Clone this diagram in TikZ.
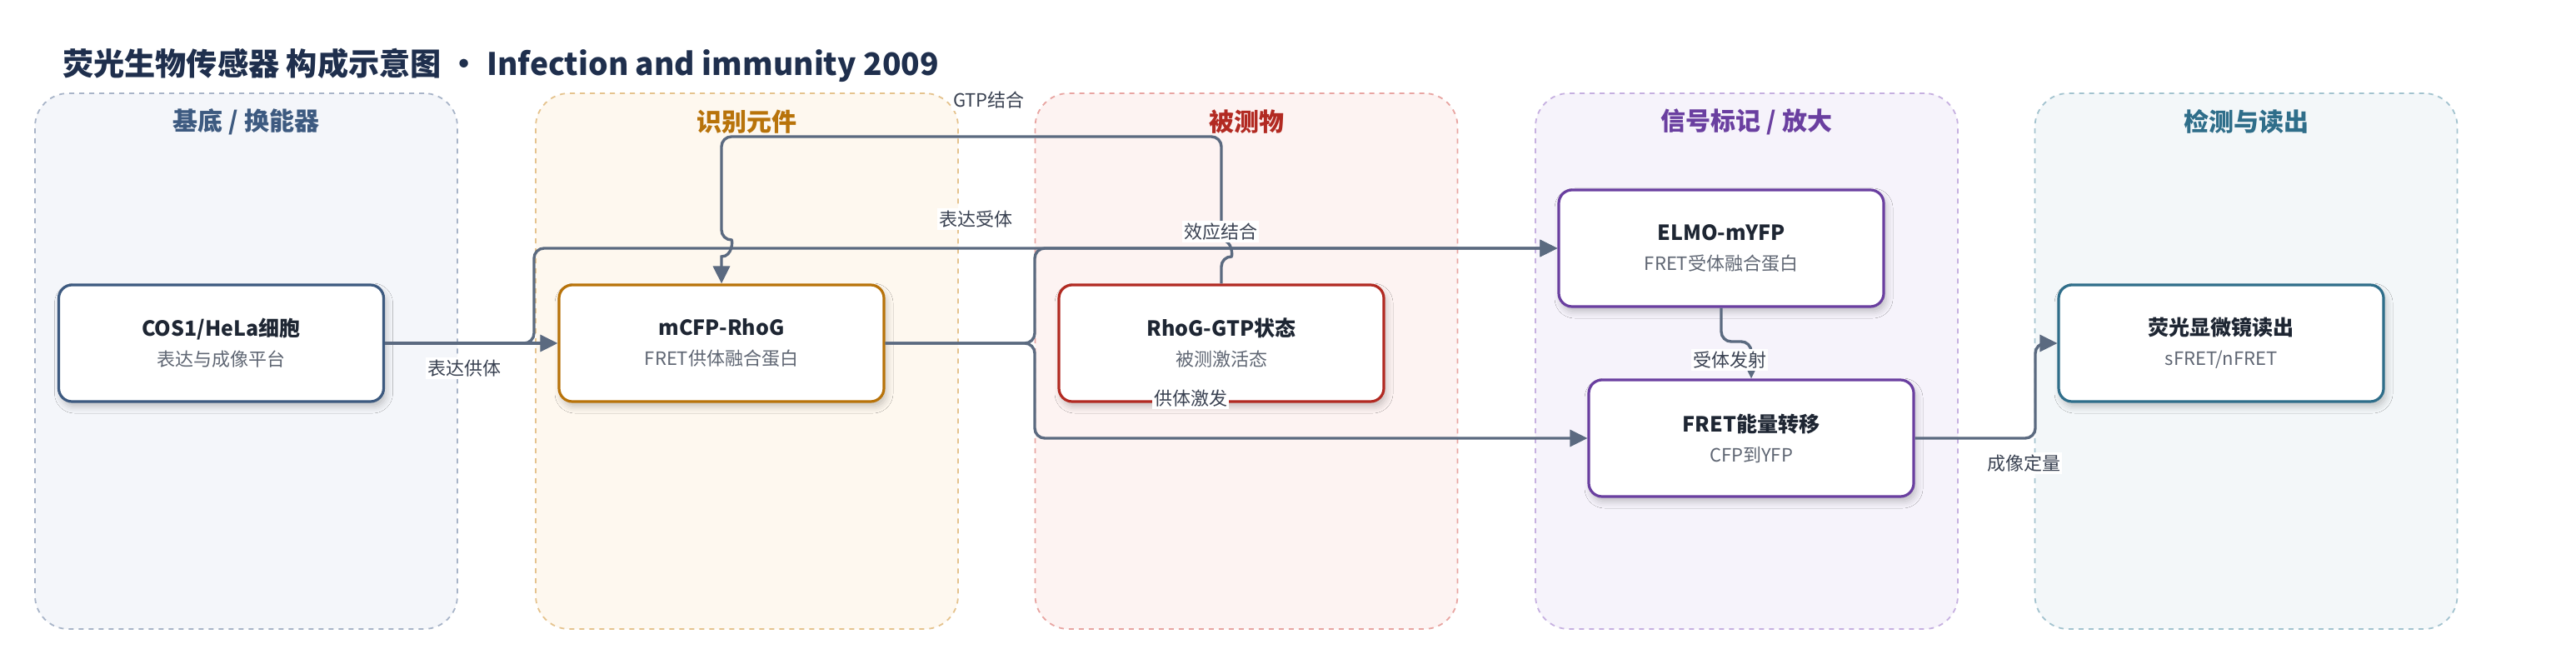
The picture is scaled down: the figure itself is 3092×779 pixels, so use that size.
\documentclass[tikz,border=0pt]{standalone}
\usepackage{fontspec}
\setmainfont{Noto Sans CJK SC}
\usetikzlibrary{arrows.meta,shadows.blur}
\definecolor{edgec}{HTML}{5B6A80}
\definecolor{titlec}{HTML}{1F2F4D}
\definecolor{boxt}{HTML}{1E2633}
\definecolor{subc}{HTML}{5F6673}
\definecolor{labc}{HTML}{3A4252}
\definecolor{laneAf}{HTML}{F4F6FA}\definecolor{laneAd}{HTML}{A8B4C8}\definecolor{laneAt}{HTML}{3D5A80}
\definecolor{laneBf}{HTML}{FEF8EF}\definecolor{laneBd}{HTML}{E5C38E}\definecolor{laneBt}{HTML}{B8730A}
\definecolor{laneCf}{HTML}{FDF3F2}\definecolor{laneCd}{HTML}{E8A5A2}\definecolor{laneCt}{HTML}{B22A22}
\definecolor{laneDf}{HTML}{F6F3FB}\definecolor{laneDd}{HTML}{C6B0E0}\definecolor{laneDt}{HTML}{6A3FA0}
\definecolor{laneEf}{HTML}{F3F7F9}\definecolor{laneEd}{HTML}{A3C3CF}\definecolor{laneEt}{HTML}{2F6E8A}
\tikzset{
  lanebox/.style={draw=#1, dashed, dash pattern=on 3pt off 3pt, line width=0.9pt, rounded corners=20pt,
     minimum width=253.5pt, minimum height=321.5pt, inner sep=0pt},
  lanetitle/.style={text=#1, font=\fontsize{15pt}{18pt}\selectfont\bfseries},
  procbox/.style={draw=#1, fill=white, line width=1.6pt, rounded corners=8pt,
     minimum width=195pt, minimum height=70pt, align=center, text=boxt,
     font=\fontsize{12.5pt}{17pt}\selectfont,
     blur shadow={shadow xshift=1.5pt, shadow yshift=-3pt, shadow blur radius=4pt, shadow opacity=22}},
  conn/.style={draw=edgec, line width=1.7pt, rounded corners=6pt, -{Triangle[length=10.5pt,width=10pt]}},
  elabel/.style={fill=white, inner sep=1.2pt, text=labc, font=\fontsize{11pt}{13pt}\selectfont},
}
\newcommand{\bxt}[2]{\textbf{#1}\\[1pt]{\fontsize{11pt}{13pt}\selectfont\color{subc}#2}}
\begin{document}
\begin{tikzpicture}[x=0.5pt,y=-0.5pt]
\useasboundingbox (0,0) rectangle (3092,779);
% title
\node[anchor=west, text=titlec, font=\fontsize{18.6pt}{22pt}\selectfont\bfseries] (title) at (68,78)
  {荧光生物传感器 构成示意图 • Infection and immunity 2009};
% lanes
\node[lanebox=laneAd, fill=laneAf] (laneA) at (295.5,433.5) {};
\node[lanebox=laneBd, fill=laneBf] (laneB) at (896.5,433.5) {};
\node[lanebox=laneCd, fill=laneCf] (laneC) at (1496,433.5) {};
\node[lanebox=laneDd, fill=laneDf] (laneD) at (2096.5,433.5) {};
\node[lanebox=laneEd, fill=laneEf] (laneE) at (2696,433.5) {};
\node[lanetitle=laneAt] (tA) at (295.5,146) {基底 / 换能器};
\node[lanetitle=laneBt] (tB) at (896.5,146) {识别元件};
\node[lanetitle=laneCt] (tC) at (1496,146) {被测物};
\node[lanetitle=laneDt] (tD) at (2096.5,146) {信号标记 / 放大};
\node[lanetitle=laneEt] (tE) at (2696,146) {检测与读出};
% boxes
\node[procbox=laneAt] (cos) at (265.5,412) {\bxt{COS1/HeLa细胞}{表达与成像平台}};
\node[procbox=laneBt] (mcfp) at (866,412) {\bxt{mCFP-RhoG}{FRET供体融合蛋白}};
\node[procbox=laneCt] (rho) at (1466,412) {\bxt{RhoG-GTP状态}{被测激活态}};
\node[procbox=laneDt] (elmo) at (2066,298) {\bxt{ELMO-mYFP}{FRET受体融合蛋白}};
\node[procbox=laneDt] (fret) at (2102,526) {\bxt{FRET能量转移}{CFP到YFP}};
\node[procbox=laneEt] (det) at (2666,412) {\bxt{荧光显微镜读出}{sFRET/nFRET}};
% connectors
\draw[conn] (cos.east) -- (mcfp.west);
\draw[conn] (cos.east) -- (641,412) -- (641,298) -- (elmo.west);
\draw[conn] (mcfp.east) -- (1242,412) -- (1242,298) -- (elmo.west);
\draw[conn] (mcfp.east) -- (1242,412) -- (1242,526) -- (fret.west);
\draw[conn] (rho.north) -- (1466,308) [sharp corners] .. controls (1479.5,308) and (1479.5,288) .. (1466,288)
   [rounded corners=6pt] -- (1466,164) -- (866,164) -- (866,288) [sharp corners] .. controls (879.5,288) and (879.5,308) .. (866,308) -- (mcfp.north);
\draw[conn] (elmo.south) -- (2066,410) -- (2102,410) -- (fret.north);
\draw[conn] (fret.east) -- (2443,526) -- (2443,412) -- (det.west);
% labels
\node[elabel] (l1) at (557,442) {表达供体};
\node[elabel] (l2) at (1171,263) {表达受体};
\node[elabel] (l3) at (1187,120) {GTP结合};
\node[elabel] (l4) at (1465,278) {效应结合};
\node[elabel] (l5) at (1429,478) {供体激发};
\node[elabel] (l6) at (2076,432) {受体发射};
\node[elabel] (l7) at (2429,556) {成像定量};
\end{tikzpicture}
\end{document}
